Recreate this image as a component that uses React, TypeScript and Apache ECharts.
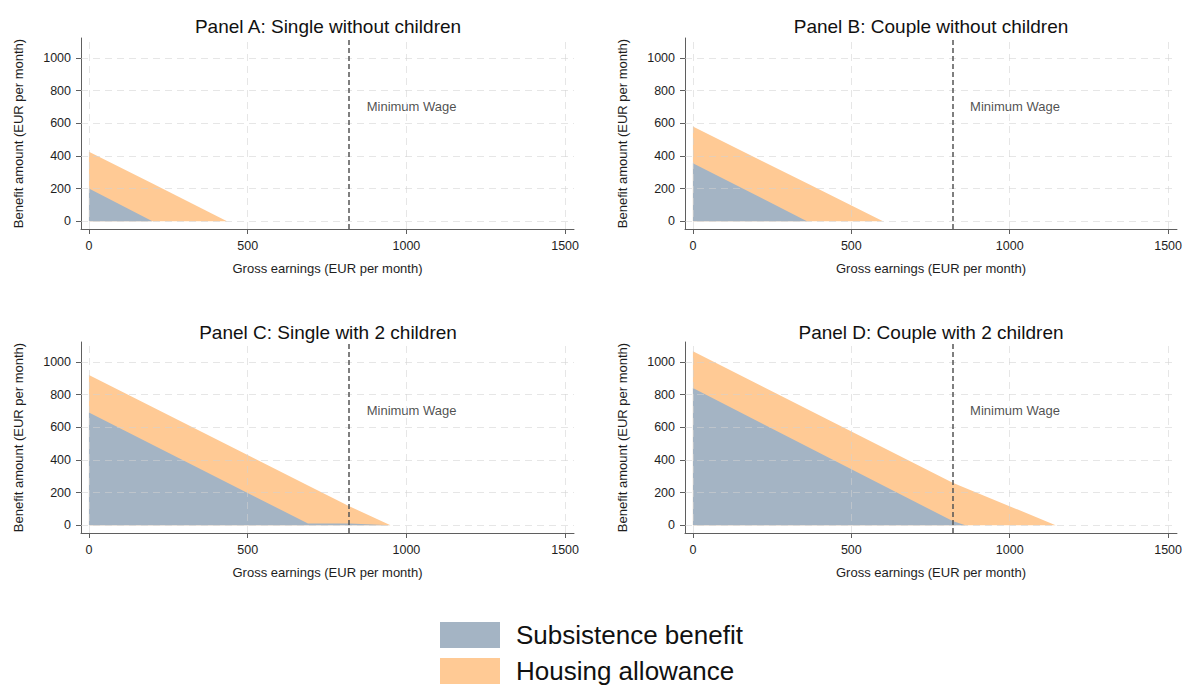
import React, { useEffect, useRef } from "react";
import * as echarts from "echarts";

// Axis ticks shared by all four panels
const xTicks = [0, 500, 1000, 1500];
const yTicks = [0, 200, 400, 600, 800, 1000];
const minimumWage = 820;

const panelTitles = [
  "Panel A: Single without children",
  "Panel B: Couple without children",
  "Panel C: Single with 2 children",
  "Panel D: Couple with 2 children",
];

// Gross earnings breakpoints (EUR per month) and benefit amounts at each
const earningsA = [0, 200, 435];
const subsistenceA = [200, 0, 0];
const housingA = [225, 230, 0];

const earningsB = [0, 360, 600];
const subsistenceB = [355, 0, 0];
const housingB = [225, 232, 0];

const earningsC = [0, 690, 820, 950];
const subsistenceC = [690, 10, 10, 0];
const housingC = [230, 233, 106, 0];

const earningsD = [0, 820, 860, 1145];
const subsistenceD = [840, 25, 0, 0];
const housingD = [225, 235, 228, 0];

const SUBSISTENCE = "Subsistence benefit";
const HOUSING = "Housing allowance";
const GRAY = "#A4B4C4";
const ORANGE = "#FFCA95";
const FONT = "'Liberation Sans', Arial, sans-serif";

const panels = [
  { x: earningsA, s: subsistenceA, h: housingA },
  { x: earningsB, s: subsistenceB, h: housingB },
  { x: earningsC, s: subsistenceC, h: housingC },
  { x: earningsD, s: subsistenceD, h: housingD },
];

const gridBoxes = [
  { left: 81, top: 38, width: 493, height: 191 },
  { left: 685, top: 38, width: 493, height: 191 },
  { left: 81, top: 342, width: 493, height: 191 },
  { left: 685, top: 342, width: 493, height: 191 },
];

const titleCenters = [
  [328, 26],
  [931, 26],
  [328, 332],
  [931, 332],
];

const plainNumber = (v: number) => String(v);

function buildOption() {
  const grids = gridBoxes.map((g) => ({ ...g, containLabel: false }));

  const xAxes = gridBoxes.map((_, i) => ({
    type: "value",
    gridIndex: i,
    min: -25,
    max: 1528,
    axisLine: { show: true, onZero: false, lineStyle: { color: "#5f5f5f", width: 1 } },
    axisTick: { show: true, length: 5, customValues: xTicks, lineStyle: { color: "#5f5f5f" } },
    axisLabel: {
      customValues: xTicks,
      formatter: plainNumber,
      margin: 10,
      fontSize: 12.5,
      color: "#1e1e1e",
      fontFamily: FONT,
    },
    splitLine: { show: false },
    name: "Gross earnings (EUR per month)",
    nameLocation: "middle",
    nameGap: 33,
    nameTextStyle: { fontSize: 13, color: "#1e1e1e", fontFamily: FONT },
  }));

  const yAxes = gridBoxes.map((_, i) => ({
    type: "value",
    gridIndex: i,
    min: -48,
    max: 1122,
    axisLine: { show: true, onZero: false, lineStyle: { color: "#5f5f5f", width: 1 } },
    axisTick: { show: true, length: 5, customValues: yTicks, lineStyle: { color: "#5f5f5f" } },
    axisLabel: {
      customValues: yTicks,
      formatter: plainNumber,
      margin: 10,
      fontSize: 12.5,
      color: "#1e1e1e",
      fontFamily: FONT,
    },
    splitLine: { show: false },
    name: "Benefit amount (EUR per month)",
    nameLocation: "middle",
    nameGap: 56,
    nameTextStyle: { fontSize: 13, color: "#1e1e1e", fontFamily: FONT },
  }));

  const series: any[] = [];
  panels.forEach((p, i) => {
    const total = p.x.map((x, k) => [x, p.s[k] + p.h[k]]);
    const subs = p.x.map((x, k) => [x, p.s[k]]);
    series.push({
      type: "line",
      name: HOUSING,
      xAxisIndex: i,
      yAxisIndex: i,
      data: total,
      showSymbol: false,
      symbol: "none",
      lineStyle: { width: 0 },
      itemStyle: { color: ORANGE },
      areaStyle: { color: ORANGE, opacity: 1 },
      z: 2,
    });
    series.push({
      type: "line",
      name: SUBSISTENCE,
      xAxisIndex: i,
      yAxisIndex: i,
      data: subs,
      showSymbol: false,
      symbol: "none",
      lineStyle: { width: 0 },
      itemStyle: { color: GRAY },
      areaStyle: { color: GRAY, opacity: 1 },
      z: 2,
    });
    // Dashed grid and the minimum-wage marker
    series.push({
      type: "line",
      name: "grid-" + i,
      xAxisIndex: i,
      yAxisIndex: i,
      data: [],
      z: 3,
      markLine: {
        silent: true,
        symbol: ["none", "none"],
        label: { show: false },
        animation: false,
        lineStyle: { color: "rgba(210,210,210,0.55)", type: [7, 5], width: 1 },
        data: [
          ...yTicks.map((v) => ({ yAxis: v })),
          ...xTicks.map((v) => ({ xAxis: v })),
          { xAxis: minimumWage, lineStyle: { color: "#555555", type: [5, 3], width: 1.5 } },
        ],
      },
    });
    series.push({
      type: "scatter",
      name: "mw-label-" + i,
      xAxisIndex: i,
      yAxisIndex: i,
      data: [[875, 700]],
      symbolSize: 0,
      silent: true,
      z: 4,
      label: {
        show: true,
        formatter: "Minimum Wage",
        position: "right",
        distance: 0,
        fontSize: 13,
        color: "#1e1e1e",
        fontFamily: FONT,
      },
    });
  });

  const titles = panelTitles.map((t, i) => ({
    type: "text",
    x: titleCenters[i][0],
    y: titleCenters[i][1],
    style: {
      text: t,
      textAlign: "center",
      textVerticalAlign: "middle",
      fontSize: 19,
      fill: "#111",
      fontFamily: FONT,
    },
  }));

  return {
    animation: false,
    backgroundColor: "#ffffff",
    grid: grids,
    xAxis: xAxes,
    yAxis: yAxes,
    series,
    graphic: titles,
    legend: {
      orient: "vertical",
      left: 440,
      top: 622,
      padding: 0,
      itemWidth: 60,
      itemHeight: 26,
      itemGap: 10,
      selectedMode: false,
      textStyle: { fontSize: 26, color: "#111", fontFamily: FONT, padding: [0, 0, 0, 11] },
      data: [
        { name: SUBSISTENCE, icon: "rect", itemStyle: { color: GRAY } },
        { name: HOUSING, icon: "rect", itemStyle: { color: ORANGE } },
      ],
    },
  };
}

export default function App() {
  const ref = useRef<HTMLDivElement>(null);
  useEffect(() => {
    document.body.style.margin = "0";
    const chart = echarts.init(ref.current!, null, { renderer: "svg" });
    chart.setOption(buildOption() as any);
    return () => chart.dispose();
  }, []);
  return <div ref={ref} style={{ width: 1185, height: 685 }} />;
}
